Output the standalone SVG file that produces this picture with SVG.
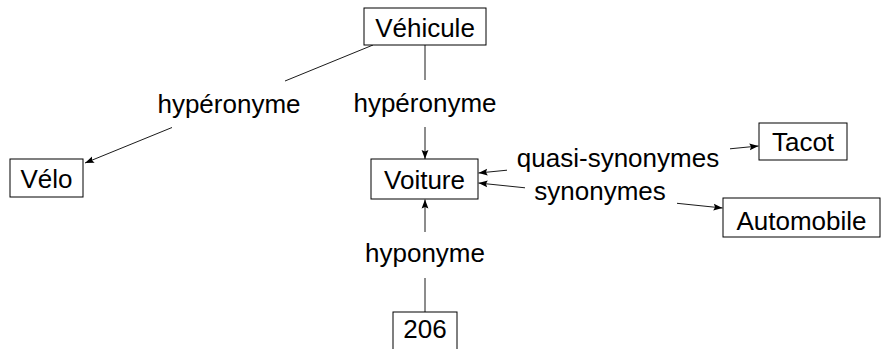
<svg xmlns="http://www.w3.org/2000/svg" width="881" height="349" viewBox="0 0 881 349">
  <style>
    .box { fill: #fff; stroke: #000; stroke-width: 1; }
    .lbl { font-family: "Liberation Sans", Arial, sans-serif; font-size: 26px; fill: #000; text-anchor: middle; }
    .edge { fill: none; stroke: #000; stroke-width: 0.9; }
    .arr { marker-end: url(#tip); }
  </style>
  <defs>
    <marker id="tip" markerUnits="userSpaceOnUse" markerWidth="10" markerHeight="8" refX="9" refY="4" orient="auto">
      <path d="M0,0.6 L9,4 L0,7.4 L1.5,4 z" fill="#000"/>
    </marker>
  </defs>
  <rect width="881" height="349" fill="#fff"/>

  <!-- connectors, each split around its label -->
  <g id="connectors">
    <!-- Véhicule -> Vélo -->
    <line class="edge" x1="373" y1="45" x2="285" y2="81"/>
    <line class="edge arr" x1="172" y1="127.5" x2="85" y2="163"/>
    <!-- Véhicule -> Voiture -->
    <line class="edge" x1="425" y1="45" x2="425" y2="80"/>
    <line class="edge arr" x1="425" y1="127" x2="425" y2="159"/>
    <!-- 206 -> Voiture -->
    <line class="edge" x1="425" y1="312" x2="425" y2="278"/>
    <line class="edge arr" x1="425" y1="232" x2="425" y2="199.5"/>
    <!-- Voiture <-> Tacot -->
    <line class="edge arr" x1="507" y1="170.2" x2="478.5" y2="173"/>
    <line class="edge arr" x1="730" y1="148.8" x2="758.5" y2="146"/>
    <!-- Voiture <-> Automobile -->
    <line class="edge arr" x1="525" y1="187.8" x2="478.5" y2="183"/>
    <line class="edge arr" x1="677" y1="203.3" x2="722.5" y2="208"/>
  </g>

  <g id="n-vehicule">
    <rect class="box" x="364" y="8" width="122" height="37"/>
    <text class="lbl" x="425" y="37">Véhicule</text>
  </g>
  <g id="n-velo">
    <rect class="box" x="10" y="159" width="73" height="38"/>
    <text class="lbl" x="46.5" y="188">Vélo</text>
  </g>
  <g id="n-voiture">
    <rect class="box" x="371" y="159" width="107" height="40"/>
    <text class="lbl" x="424.5" y="189">Voiture</text>
  </g>
  <g id="n-tacot">
    <rect class="box" x="759" y="123" width="88" height="37"/>
    <text class="lbl" x="803" y="151">Tacot</text>
  </g>
  <g id="n-automobile">
    <rect class="box" x="723" y="198" width="157" height="39"/>
    <text class="lbl" x="801.5" y="230">Automobile</text>
  </g>
  <g id="n-206">
    <rect class="box" x="393" y="312" width="64" height="40"/>
    <text class="lbl" x="425" y="338">206</text>
  </g>

  <g id="edge-labels">
    <text class="lbl" x="229" y="113">hypéronyme</text>
    <text class="lbl" x="425" y="112">hypéronyme</text>
    <text class="lbl" x="618" y="167">quasi-synonymes</text>
    <text class="lbl" x="600" y="200">synonymes</text>
    <text class="lbl" x="425" y="262">hyponyme</text>
  </g>
</svg>
